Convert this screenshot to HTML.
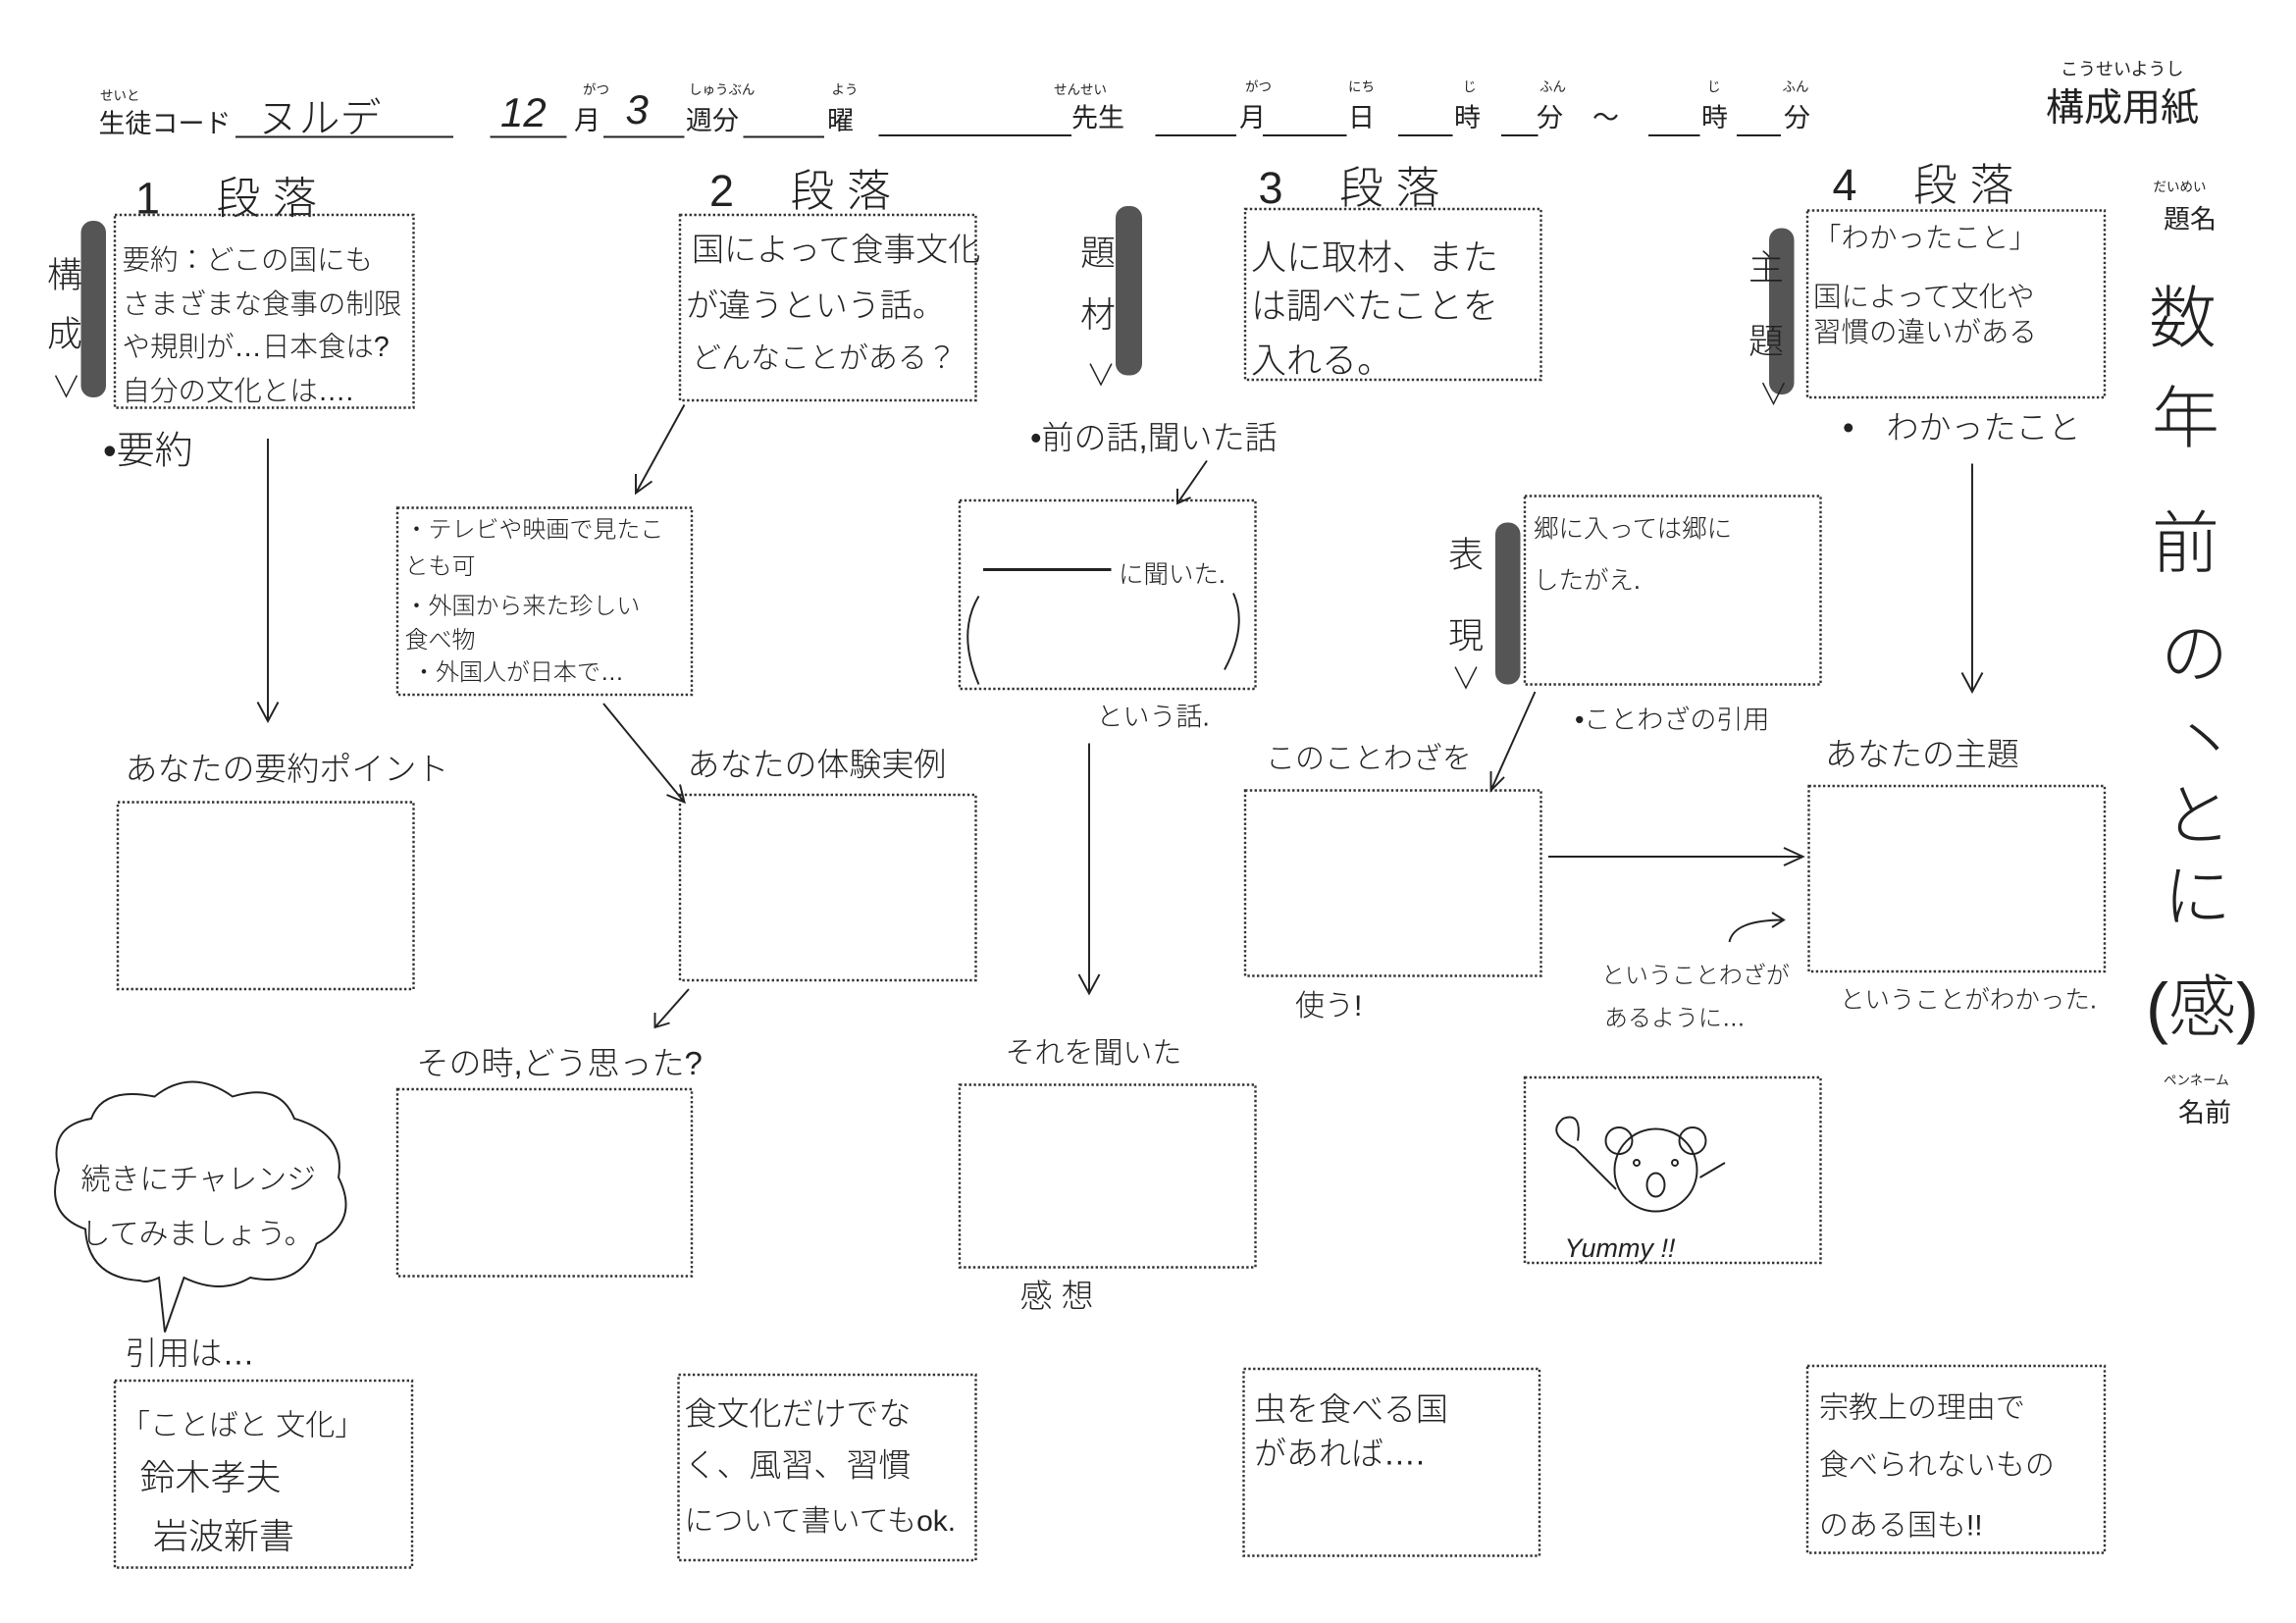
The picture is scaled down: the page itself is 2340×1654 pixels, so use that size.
<!DOCTYPE html>
<html><head><meta charset="utf-8"><style>
html,body{margin:0;padding:0;background:#fff;}
svg{display:block;}
text{font-family:"Liberation Sans","Noto Sans CJK JP",sans-serif;fill:#222;}
.h{font-weight:300;}
.box{fill:none;stroke:#333;stroke-width:1.6;stroke-dasharray:1.6 1.6;}
.ln{stroke:#222;stroke-width:1.3;fill:none;}
</style></head><body>
<svg width="2340" height="1654" viewBox="0 0 1560 1102.67" xmlns="http://www.w3.org/2000/svg">
<rect width="1560" height="1103" fill="#fff"/>
<!-- header -->
<g font-size="9">
<text x="68" y="68">せいと</text><text x="468" y="64">しゅうぶん</text><text x="565" y="64">よう</text>
<text x="716" y="64">せんせい</text><text x="846" y="62">がつ</text><text x="916" y="62">にち</text>
<text x="994" y="62">じ</text><text x="1046" y="62">ふん</text><text x="1160" y="62">じ</text><text x="1211" y="62">ふん</text>
<text x="396" y="64">がつ</text><text x="1400" y="51" font-size="12">こうせいようし</text>
<text x="1463" y="130">だいめい</text><text x="1470" y="737">ペンネーム</text>
</g>
<g font-size="18">
<text x="67" y="90">生徒コード</text><text x="390" y="88">月</text><text x="466" y="88">週分</text><text x="562" y="88">曜</text>
<text x="728" y="86">先生</text><text x="842" y="86">月</text><text x="916" y="86">日</text><text x="988" y="86">時</text>
<text x="1044" y="86">分</text><text x="1082" y="86">～</text><text x="1156" y="86">時</text><text x="1212" y="86">分</text>
<text x="1470" y="155">題名</text><text x="1480" y="762">名前</text>
</g>
<text x="1390" y="82" font-size="26">構成用紙</text>
<g class="ln">
<line x1="160" y1="93" x2="308" y2="93"/><line x1="333" y1="93" x2="385" y2="93"/><line x1="410" y1="93" x2="465" y2="93"/>
<line x1="505" y1="93" x2="560" y2="93"/><line x1="597" y1="92" x2="728" y2="92"/><line x1="785" y1="92" x2="840" y2="92"/>
<line x1="858" y1="92" x2="915" y2="92"/><line x1="950" y1="92" x2="987" y2="92"/><line x1="1020" y1="92" x2="1045" y2="92"/>
<line x1="1120" y1="92" x2="1155" y2="92"/><line x1="1180" y1="92" x2="1210" y2="92"/>
</g>
<g class="h" font-size="28">
<text x="175" y="90">ヌルデ</text><text x="340" y="86" font-style="italic">12</text><text x="425" y="84" font-style="italic">3</text>
</g>
<!-- section headings -->
<g class="h" font-size="30">
<text x="92" y="145">1　 段 落</text><text x="482" y="140">2　 段 落</text>
<text x="855" y="138">3　 段 落</text><text x="1245" y="136">4　 段 落</text>
</g>
<!-- boxes -->
<g class="box">
<rect x="78" y="146" width="203" height="131"/><rect x="462" y="146" width="201" height="126"/>
<rect x="846" y="142" width="201" height="116"/><rect x="1228" y="143" width="202" height="127"/>
<rect x="270" y="345" width="200" height="127"/><rect x="652" y="340" width="201" height="128"/><rect x="1036" y="337" width="201" height="128"/>
<rect x="80" y="545" width="201" height="127"/><rect x="462" y="540" width="201" height="126"/>
<rect x="846" y="537" width="201" height="126"/><rect x="1229" y="534" width="201" height="126"/>
<rect x="270" y="740" width="200" height="127"/><rect x="652" y="737" width="201" height="124"/><rect x="1036" y="732" width="201" height="126"/>
<rect x="78" y="938" width="202" height="127"/><rect x="461" y="934" width="202" height="126"/>
<rect x="845" y="930" width="201" height="127"/><rect x="1228" y="928" width="202" height="127"/>
</g>
<!-- tabs -->
<g fill="#555">
<rect x="55" y="150" width="17" height="120" rx="8"/><rect x="758" y="140" width="18" height="115" rx="8"/>
<rect x="1202" y="155" width="17" height="113" rx="8"/><rect x="1016" y="355" width="17" height="110" rx="8"/>
</g>
<g class="h" font-size="24">
<text x="32" y="195">構</text><text x="32" y="235">成</text><text x="734" y="180">題</text><text x="734" y="222">材</text>
<text x="1188" y="190">主</text><text x="1188" y="240">題</text><text x="984" y="385">表</text><text x="984" y="440">現</text>
</g>
<g class="h" font-size="20"><text x="35" y="270">∨</text><text x="738" y="262">∨</text><text x="1195" y="275">∨</text><text x="986" y="468">∨</text></g>
<!-- box texts -->
<g class="h" font-size="19">
<text x="83" y="183">要約：どこの国にも</text><text x="83" y="213">さまざまな食事の制限</text>
<text x="83" y="242">や規則が…日本食は?</text><text x="83" y="272">自分の文化とは….</text>
<text x="470" y="177" font-size="22">国によって食事文化</text><text x="466" y="215" font-size="22">が違うという話。</text>
<text x="470" y="250" font-size="20">どんなことがある？</text>
<text x="850" y="183" font-size="24">人に取材、また</text><text x="850" y="216" font-size="24">は調べたことを</text>
<text x="850" y="253" font-size="24">入れる。</text>
<text x="1232" y="168">「わかったこと」</text><text x="1232" y="208">国によって文化や</text><text x="1232" y="232">習慣の違いがある</text>
<text x="275" y="365" font-size="16">・テレビや映画で見たこ</text><text x="275" y="390" font-size="16">とも可</text>
<text x="275" y="417" font-size="16">・外国から来た珍しい</text><text x="275" y="440" font-size="16">食べ物</text>
<text x="280" y="462" font-size="16">・外国人が日本で…</text>
<text x="760" y="396" font-size="17">に聞いた.</text>
<text x="1042" y="365" font-size="17">郷に入っては郷に</text><text x="1042" y="400" font-size="17">したがえ.</text>
<text x="1063" y="854" font-size="18" font-style="italic">Yummy !!</text>
<text x="82" y="975" font-size="20">「ことばと 文化」</text><text x="95" y="1012" font-size="24">鈴木孝夫</text><text x="104" y="1052" font-size="24">岩波新書</text>
<text x="465" y="968" font-size="22">食文化だけでな</text><text x="465" y="1003" font-size="22">く、風習、習慣</text><text x="465" y="1040" font-size="20">について書いてもok.</text>
<text x="852" y="965" font-size="22">虫を食べる国</text><text x="852" y="995" font-size="22">があれば….</text>
<text x="1236" y="963" font-size="20">宗教上の理由で</text><text x="1236" y="1002" font-size="20">食べられないもの</text><text x="1236" y="1043" font-size="20">のある国も!!</text>
</g>
<!-- labels -->
<g class="h" font-size="22">
<text x="70" y="315" font-size="26">•要約</text><text x="85" y="530">あなたの要約ポイント</text>
<text x="467" y="527">あなたの体験実例</text><text x="860" y="522" font-size="20">このことわざを</text>
<text x="1240" y="520">あなたの主題</text><text x="700" y="305">•前の話,聞いた話</text>
<text x="745" y="493" font-size="18">という話.</text><text x="1070" y="495" font-size="18">•ことわざの引用</text>
<text x="1252" y="298">•　わかったこと</text>
<text x="283" y="730">その時,どう思った?</text><text x="683" y="722" font-size="20">それを聞いた</text>
<text x="880" y="690" font-size="20">使う!</text><text x="1088" y="668" font-size="16">ということわざが</text><text x="1090" y="697" font-size="16">あるように…</text>
<text x="1250" y="685" font-size="17">ということがわかった.</text>
<text x="693" y="888">感 想</text><text x="85" y="927">引用は…</text>
<text x="55" y="808" font-size="20">続きにチャレンジ</text><text x="55" y="845" font-size="20">してみましょう。</text>
</g>
<!-- vertical title -->
<g class="h" font-size="46">
<text x="1460" y="232">数</text><text x="1462" y="300">年</text><text x="1462" y="385">前</text>
<text x="1468" y="460">の</text><text x="1475" y="520">丶</text><text x="1470" y="570">と</text><text x="1470" y="625">に</text><text x="1458" y="700">(感)</text>
</g>
<!-- arrows -->
<g class="ln">
<path d="M182,298 V490 M175,477 L182,490 L189,477"/>
<path d="M465,275 L432,335 M432,322 L432,335 L443,327"/>
<path d="M410,478 L465,545 M453,540 L465,545 L462,533"/>
<path d="M740,505 V675 M733,662 L740,675 L747,662"/>
<path d="M468,672 L445,698 M445,688 L445,698 L455,695"/>
<path d="M820,313 L800,342 M800,332 L800,342 L809,338"/>
<path d="M1043,470 L1013,537 M1013,524 L1013,537 L1022,528"/>
<path d="M1340,315 V470 M1333,457 L1340,470 L1347,457"/>
<path d="M1052,582 H1225 M1212,576 L1225,582 L1212,588"/>
<path d="M1175,640 Q1178,625 1212,625 M1204,620 L1212,625 L1204,630"/>
<path d="M668,387 H755" stroke-width="2"/>
<path d="M665,405 Q650,430 665,465 M838,403 Q848,425 832,455"/>
<!-- bubble -->
<path d="M95,870 Q60,868 58,835 Q30,825 40,795 Q32,765 62,760 Q70,738 105,745 Q130,725 158,745 Q190,735 200,760 Q235,770 230,800 Q245,830 215,845 Q205,875 170,868 Q150,880 125,868 L112,905 L108,868 Q100,872 95,870 Z"/>
<!-- bear -->
<circle cx="1125" cy="795" r="28"/><circle cx="1100" cy="775" r="9"/><circle cx="1150" cy="775" r="9"/>
<ellipse cx="1125" cy="805" rx="6" ry="8"/><circle cx="1112" cy="790" r="2"/><circle cx="1138" cy="790" r="2"/>
<path d="M1098,808 L1070,780 M1070,780 Q1050,770 1062,760 Q1075,755 1072,775 M1155,800 L1172,790"/>
</g>
</svg>
</body></html>
